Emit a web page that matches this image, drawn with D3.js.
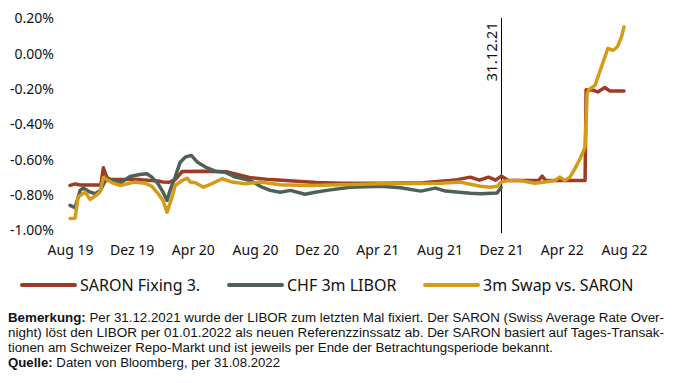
<!DOCTYPE html>
<html><head><meta charset="utf-8">
<script src="https://cdn.jsdelivr.net/npm/d3@7"></script>
<style>body{margin:0;background:#fff}svg{display:block}</style>
</head><body>
<svg id="c" width="679" height="383"></svg>
<script>
const seriesNames = ["SARON Fixing 3.", "CHF 3m LIBOR", "3m Swap vs. SARON"];
const seriesColors = ["#9f3a24", "#4e6157", "#d49b18"];

const saronDates = ["2019-08-31","2019-09-10","2019-09-20","2019-10-31","2019-11-05","2019-11-12","2019-11-20","2019-12-08","2020-01-16","2020-02-21","2020-03-02","2020-03-14","2020-03-26","2020-04-09","2020-05-20","2020-07-07","2020-08-20","2020-09-30","2020-12-31","2021-02-16","2021-05-11","2021-07-29","2021-09-21","2021-10-05","2021-10-31","2021-11-18","2021-12-06","2021-12-20","2021-12-31","2022-01-14","2022-03-15","2022-03-22","2022-03-29","2022-06-15","2022-06-17","2022-07-01","2022-07-10","2022-07-24","2022-08-03","2022-08-31"];
const saronValues = [-0.745,-0.736,-0.742,-0.742,-0.645,-0.700,-0.712,-0.712,-0.712,-0.720,-0.725,-0.727,-0.712,-0.666,-0.665,-0.668,-0.700,-0.712,-0.728,-0.732,-0.732,-0.730,-0.717,-0.712,-0.698,-0.715,-0.698,-0.715,-0.692,-0.717,-0.717,-0.692,-0.717,-0.717,-0.203,-0.205,-0.216,-0.191,-0.210,-0.210];

const liborDates = ["2019-08-31","2019-09-10","2019-09-20","2019-09-26","2019-10-10","2019-10-20","2019-10-30","2019-11-09","2019-11-28","2019-12-08","2019-12-28","2020-01-16","2020-01-30","2020-02-09","2020-02-21","2020-03-02","2020-03-10","2020-03-16","2020-03-26","2020-04-05","2020-04-15","2020-04-27","2020-05-09","2020-05-25","2020-06-13","2020-07-03","2020-07-23","2020-08-22","2020-09-14","2020-09-30","2020-10-20","2020-11-09","2020-12-08","2020-12-28","2021-01-27","2021-03-08","2021-05-07","2021-06-15","2021-07-25","2021-08-23","2021-09-12","2021-10-31","2021-11-20","2021-12-23","2021-12-31"];
const liborValues = [-0.858,-0.871,-0.773,-0.760,-0.783,-0.792,-0.773,-0.717,-0.717,-0.732,-0.694,-0.683,-0.679,-0.698,-0.735,-0.783,-0.830,-0.773,-0.698,-0.613,-0.585,-0.575,-0.613,-0.641,-0.664,-0.670,-0.698,-0.717,-0.755,-0.773,-0.783,-0.773,-0.795,-0.783,-0.770,-0.755,-0.750,-0.758,-0.777,-0.760,-0.777,-0.789,-0.792,-0.788,-0.756];

const swapDates = ["2019-08-31","2019-09-10","2019-09-16","2019-09-30","2019-10-10","2019-10-24","2019-10-30","2019-11-05","2019-11-24","2019-12-08","2020-01-06","2020-01-26","2020-02-09","2020-02-21","2020-03-02","2020-03-10","2020-03-20","2020-03-26","2020-04-09","2020-04-19","2020-04-25","2020-05-05","2020-05-21","2020-06-07","2020-06-27","2020-07-17","2020-08-12","2020-09-10","2020-10-20","2020-12-18","2021-02-16","2021-05-07","2021-09-02","2021-10-11","2021-11-20","2021-12-09","2021-12-23","2021-12-31","2022-01-14","2022-02-06","2022-03-08","2022-03-28","2022-04-16","2022-04-26","2022-05-06","2022-05-16","2022-05-26","2022-06-05","2022-06-15","2022-06-19","2022-06-22","2022-07-05","2022-07-15","2022-07-30","2022-08-10","2022-08-18","2022-08-26","2022-08-31"];
const swapValues = [-0.932,-0.930,-0.810,-0.783,-0.824,-0.796,-0.779,-0.700,-0.732,-0.745,-0.726,-0.732,-0.750,-0.790,-0.830,-0.896,-0.810,-0.745,-0.717,-0.704,-0.726,-0.730,-0.755,-0.735,-0.707,-0.726,-0.735,-0.726,-0.741,-0.745,-0.741,-0.735,-0.732,-0.726,-0.750,-0.755,-0.750,-0.726,-0.717,-0.717,-0.732,-0.726,-0.717,-0.698,-0.717,-0.698,-0.650,-0.594,-0.528,-0.225,-0.203,-0.178,-0.093,0.030,0.020,0.040,0.096,0.152];

const xTickDates = ["2019-08-31","2019-12-31","2020-04-30","2020-08-31","2020-12-31","2021-04-30","2021-08-31","2021-12-31","2022-04-30","2022-08-31"];
const xTickLabels = ["Aug 19","Dez 19","Apr 20","Aug 20","Dez 20","Apr 21","Aug 21","Dez 21","Apr 22","Aug 22"];
const yTickValues = [0.2, 0.0, -0.2, -0.4, -0.6, -0.8, -1.0];
const yTickLabels = ["0.20%","0.00%","-0.20%","-0.40%","-0.60%","-0.80%","-1.00%"];
const markerDate = "2021-12-31";
const markerLabel = "31.12.21";
const noteLines = [
  ["Bemerkung:", " Per 31.12.2021 wurde der LIBOR zum letzten Mal fixiert. Der SARON (Swiss Average Rate Over-"],
  ["", "night) löst den LIBOR per 01.01.2022 als neuen Referenzzinssatz ab. Der SARON basiert auf Tages-Transak-"],
  ["", "tionen am Schweizer Repo-Markt und ist jeweils per Ende der Betrachtungsperiode bekannt."],
  ["Quelle:", " Daten von Bloomberg, per 31.08.2022"]
];

const parse = d3.utcParse("%Y-%m-%d");
const svg = d3.select("#c");
const font = "'Noto Sans', sans-serif";

const x = d3.scaleUtc().domain([parse("2019-08-31"), parse("2022-08-31")]).range([70, 624]);
const y = d3.scaleLinear().domain([-1.0, 0.2]).range([230.5, 18.5]);

// y axis
const yAxis = d3.axisLeft(y).tickValues(yTickValues).tickSize(0).tickPadding(0)
  .tickFormat((d,i) => yTickLabels[i]);
const gy = svg.append("g").attr("transform","translate(54,0)").call(yAxis);
gy.select(".domain").remove();
gy.selectAll("text").attr("font-family", font).attr("font-size", 14).attr("fill","#111");

// x axis
const xAxis = d3.axisBottom(x).tickValues(xTickDates.map(parse)).tickSize(0).tickPadding(0)
  .tickFormat((d,i) => xTickLabels[i]);
const gx = svg.append("g").attr("transform","translate(0,245)").call(xAxis);
gx.select(".domain").remove();
gx.selectAll("text").attr("font-family", font).attr("font-size", 14).attr("fill","#111");

// marker line
const mx = Math.round(x(parse(markerDate))) + 0.5;
svg.append("line").attr("x1", mx).attr("x2", mx).attr("y1", 18).attr("y2", 233)
  .attr("stroke","#000").attr("stroke-width",1);
svg.append("text").attr("transform", `translate(${mx-5},22) rotate(-90)`)
  .attr("text-anchor","end").attr("font-family", font).attr("font-size", 15).attr("fill","#111")
  .text(markerLabel);

// series
const line = d3.line().x(d => x(d[0])).y(d => y(d[1]));
const series = [
  [saronDates, saronValues],
  [liborDates, liborValues],
  [swapDates, swapValues]
];
series.forEach(([ds, vs], i) => {
  const data = ds.map((d, j) => [parse(d), vs[j]]);
  svg.append("path").datum(data).attr("d", line).attr("fill","none")
    .attr("stroke", seriesColors[i]).attr("stroke-width", 3.5)
    .attr("stroke-linejoin","round").attr("stroke-linecap","round");
});

// legend
const legendX = [22, 229, 425];
const lg = svg.append("g");
seriesNames.forEach((n, i) => {
  lg.append("line").attr("x1", legendX[i]).attr("x2", legendX[i] + 53)
    .attr("y1", 285).attr("y2", 285).attr("stroke", seriesColors[i]).attr("stroke-width", 4)
    .attr("stroke-linecap","round");
  lg.append("text").attr("x", legendX[i] + 58).attr("y", 291)
    .attr("font-family", font).attr("font-size", 16).attr("fill","#111").text(n);
});

// notes
const noteWidths = [656, 656, 545, 272];
noteLines.forEach((ln, i) => {
  const t = svg.append("text").attr("x", 8).attr("y", 322 + i * 15)
    .attr("font-family", "'Liberation Sans', Arial, sans-serif").attr("font-size", 12).attr("fill","#111");
  if (ln[0]) t.append("tspan").attr("font-weight","bold").text(ln[0]);
  t.append("tspan").text(ln[1]);
  if (noteWidths[i]) t.attr("textLength", noteWidths[i]).attr("lengthAdjust","spacingAndGlyphs");
});
</script>
</body></html>
